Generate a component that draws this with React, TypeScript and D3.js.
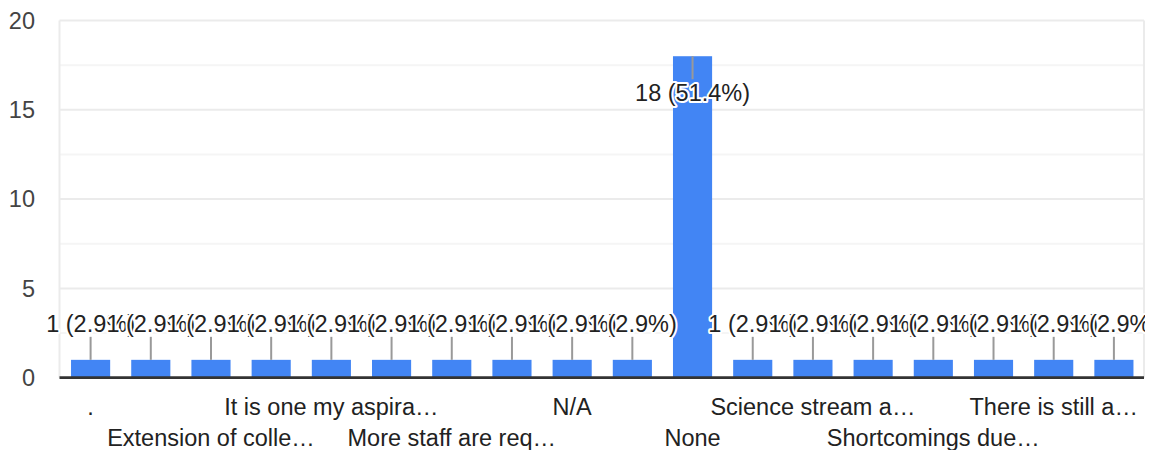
import React from "react";
import * as d3 from "d3";

const categories: string[] = [
  ".",
  "Answer 2",
  "Extension of colle…",
  "Answer 4",
  "It is one my aspira…",
  "Answer 6",
  "More staff are req…",
  "Answer 8",
  "N/A",
  "Answer 10",
  "None",
  "Answer 12",
  "Science stream a…",
  "Answer 14",
  "Shortcomings due…",
  "Answer 16",
  "There is still a…",
  "Answer 18",
];
const counts: number[] = [1, 1, 1, 1, 1, 1, 1, 1, 1, 1, 18, 1, 1, 1, 1, 1, 1, 1];
const yTicks: number[] = [0, 5, 10, 15, 20];
const minorTicks: number[] = [2.5, 7.5, 12.5, 17.5];

const W = 1153;
const H = 450;
const FONT = "Arial, 'Liberation Sans', sans-serif";
const FS = 23.5;

export default function App() {
  const total = d3.sum(counts);
  const x = d3
    .scaleBand<number>()
    .domain(counts.map((_, i) => i))
    .range([60.5, 1144])
    .paddingInner(0.35)
    .paddingOuter(0.175);
  const y = d3.scaleLinear().domain([0, 20]).range([377.7, 20.5]);
  const left = 59.5;
  const right = 1144;

  const labelText = (v: number) => `${v} (${((v / total) * 100).toFixed(1)}%)`;

  return (
    <svg
      width={W}
      height={H}
      style={{ position: "absolute", left: 0, top: 0, background: "#fff" }}
      fontFamily={FONT}
    >
      <defs>
        <clipPath id="clipR">
          <rect x={0} y={0} width={1145} height={H} />
        </clipPath>
      </defs>
      {minorTicks.map((t) => (
        <line key={"m" + t} x1={left} x2={right} y1={y(t)} y2={y(t)} stroke="#f5f5f5" strokeWidth={2} />
      ))}
      {yTicks.filter((t) => t > 0).map((t) => (
        <line key={"g" + t} x1={left} x2={right} y1={y(t)} y2={y(t)} stroke="#ebebeb" strokeWidth={2} />
      ))}
      <line x1={left} x2={left} y1={y(20)} y2={y(0)} stroke="#ebebeb" strokeWidth={2} />
      <line x1={right} x2={right} y1={y(20)} y2={y(0)} stroke="#ebebeb" strokeWidth={2} />
      {yTicks.map((t) => (
        <text key={"t" + t} x={35} y={y(t) + 8.3} textAnchor="end" fontSize={FS} fill="#444">
          {t}
        </text>
      ))}
      {counts.map((v, i) => (
        <rect
          key={"b" + i}
          x={x(i)!}
          y={y(v)}
          width={x.bandwidth()}
          height={y(0) - y(v)}
          fill="#4285f4"
        />
      ))}
      <line x1={left} x2={right} y1={y(0)} y2={y(0)} stroke="#333" strokeWidth={2.7} />
      <g clipPath="url(#clipR)">
        {counts.map((v, i) => {
          const cx = x(i)! + x.bandwidth() / 2;
          const top = y(v);
          const inside = v > 10;
          const stemEnd = inside ? top + 23 : top - 23;
          const base = inside ? stemEnd + 21.7 : stemEnd - 5;
          return (
            <g key={"a" + i}>
              <line x1={cx} x2={cx} y1={top} y2={stemEnd} stroke="#999" strokeWidth={2} />
              <text
                x={cx}
                y={base}
                textAnchor="middle"
                fontSize={FS}
                fill="#222"
                stroke="#fff"
                strokeWidth={4}
                strokeLinejoin="round"
                paintOrder="stroke"
              >
                {labelText(v)}
              </text>
            </g>
          );
        })}
      </g>
      {categories.map((c, i) =>
        i % 2 === 0 ? (
          <text
            key={"c" + i}
            x={x(i)! + x.bandwidth() / 2}
            y={(i / 2) % 2 === 0 ? 415 : 446}
            textAnchor="middle"
            fontSize={FS}
            fill="#222"
          >
            {c}
          </text>
        ) : null
      )}
    </svg>
  );
}
